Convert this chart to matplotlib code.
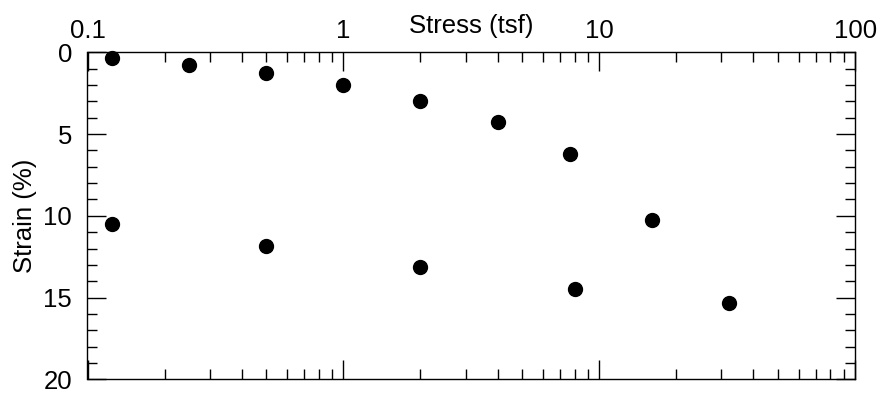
import matplotlib
matplotlib.use("Agg")
import matplotlib.pyplot as plt
from matplotlib.ticker import FixedLocator, FixedFormatter, LogLocator, NullFormatter, MultipleLocator

plt.rcParams['font.family'] = ['Liberation Sans', 'DejaVu Sans']

stress = [0.125, 0.25, 0.5, 1, 2, 4, 7.7, 16, 32, 8, 2, 0.5, 0.125]
strain = [0.33, 0.76, 1.29, 2.0, 2.96, 4.24, 6.24, 10.26, 15.31, 14.5, 13.11, 11.87, 10.48]

xticks = [0.1, 1, 10, 100]
xticklabels = ['0.1', '1', '10', '100']
yticks = [0, 5, 10, 15, 20]
yticklabels = ['0', '5', '10', '15', '20']

FS = 18.5

fig = plt.figure(figsize=(8.79, 3.94), dpi=100)
ax = fig.add_axes([87.5/879, 1 - 379.3/394, (855.3-87.5)/879, (379.3-52.3)/394])

ax.scatter(stress, strain, s=100, color='black', zorder=3, clip_on=False)

ax.set_xscale('log')
ax.set_xlim(0.1, 100)
ax.set_ylim(20, 0)

ax.xaxis.set_major_locator(FixedLocator(xticks))
ax.xaxis.set_major_formatter(FixedFormatter(xticklabels))
ax.xaxis.set_minor_locator(LogLocator(base=10, subs=range(2, 10)))
ax.xaxis.set_minor_formatter(NullFormatter())
ax.yaxis.set_major_locator(FixedLocator(yticks))
ax.yaxis.set_major_formatter(FixedFormatter(yticklabels))
ax.yaxis.set_minor_locator(MultipleLocator(1))

ax.xaxis.set_label_position('top')
ax.xaxis.tick_top()
ax.tick_params(axis='both', which='both', direction='in', top=True, bottom=True,
               left=True, right=True, labeltop=True, labelbottom=False, width=1)
ax.tick_params(axis='both', which='major', length=14)
ax.tick_params(axis='both', which='minor', length=7)
ax.tick_params(axis='x', which='major', pad=7, labelsize=FS)
ax.tick_params(axis='y', which='major', pad=11, labelsize=FS)

for s in ax.spines.values():
    s.set_linewidth(1.0)

ax.set_xlabel('Stress (tsf)', fontsize=FS)
ax.set_ylabel('Strain (%)', fontsize=FS)
ax.xaxis.set_label_coords(0.5, 1.059)
ax.yaxis.set_label_coords(-0.066, 0.5)

fig.savefig('out.png', dpi=100)
